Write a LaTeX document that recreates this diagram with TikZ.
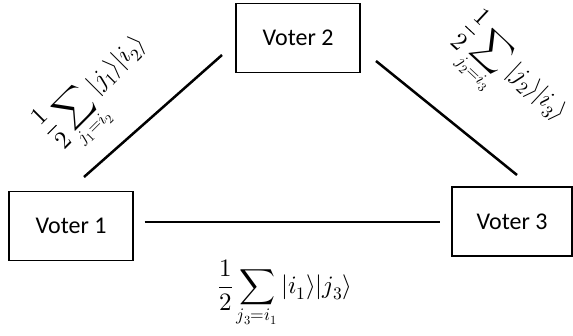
\documentclass[tikz,border=0pt]{standalone}
\usepackage{fontspec}
\usepackage{unicode-math}
\setmainfont{Carlito}
\setmathfont{Latin Modern Math}

\begin{document}
\begin{tikzpicture}[x=1pt, y=-1pt,
    % Define a style for the voter boxes
    voter/.style={
        draw=black,
        line width=1.2pt,
        minimum width=124pt,
        minimum height=69pt,
        font=\fontsize{24}{28}\selectfont
    },
    % Links between the voters and their shared states
    link/.style={line width=2.5pt, black},
    ketlabel/.style={inner sep=0pt, font=\fontsize{25}{30}\selectfont}
]
\useasboundingbox (0,0) rectangle (573,335);

% 1. The three voters
\node[voter] (v1) at (71,226)  {Voter 1};
\node[voter] (v2) at (298,38)  {Voter 2};
\node[voter, minimum width=120pt] (v3) at (512,221.5) {Voter 3};

% 2. Free ends of the links (they stop short of the boxes)
\coordinate (a12) at (84,177);
\coordinate (b12) at (222,55);
\coordinate (a23) at (376,61);
\coordinate (b23) at (517,175);

% 3. The links
\draw[link] (a12) -- (b12);
\draw[link] (a23) -- (b23);
\draw[link, shorten <=11pt, shorten >=11pt] (v1.east |- 0,222) -- (v3.west |- 0,222);

% 4. Shared states on each link
\node[ketlabel, rotate=45] (s12) at (99,92)
    {$\displaystyle\frac{1}{2}\sum_{j_1=i_2}|j_1\rangle|i_2\rangle$};
\node[ketlabel, rotate=-43] (s23) at (509,76)
    {$\displaystyle\frac{1}{2}\sum_{j_2=i_3}|j_2\rangle|i_3\rangle$};
\node[ketlabel] (s13) at (285,294)
    {$\displaystyle\frac{1}{2}\sum_{j_3=i_1}|i_1\rangle|j_3\rangle$};

\end{tikzpicture}
\end{document}
